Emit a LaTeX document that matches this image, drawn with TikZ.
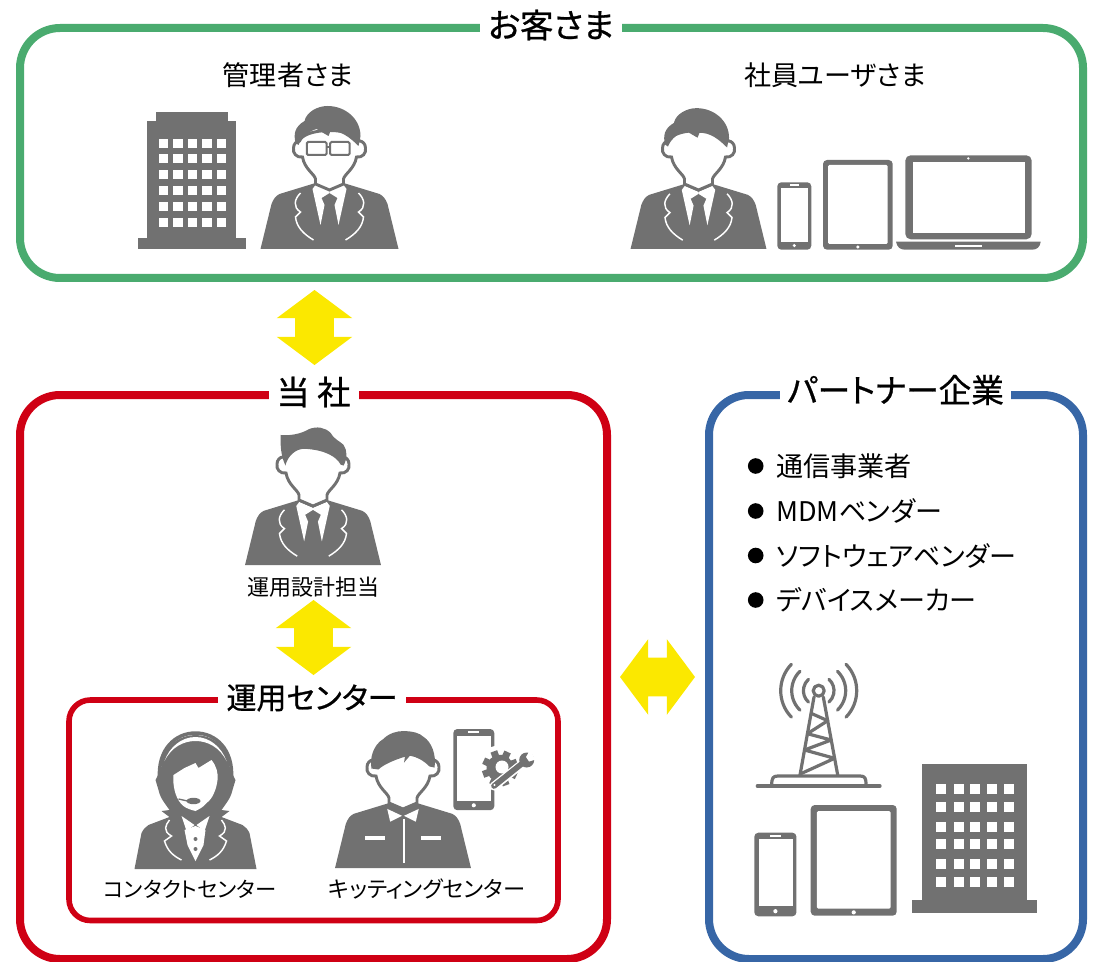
\documentclass[tikz,border=0pt]{standalone}
\usepackage{fontspec}
\setmainfont{Noto Sans CJK JP}[RawFeature=+palt]
\newfontfamily\titlefont{Noto Sans CJK JP}[RawFeature=+palt,FakeBold=0.8]
\usetikzlibrary{shapes.arrows}
\definecolor{icongray}{RGB}{113,113,113}
\definecolor{customergreen}{RGB}{74,171,111}
\definecolor{staffred}{RGB}{207,0,20}
\definecolor{partnerblue}{RGB}{55,102,166}
\definecolor{arrowyellow}{RGB}{251,232,0}
\tikzset{
        outerframe/.style={line width=6pt,rounded corners=30pt},
        innerframe/.style={line width=4.2pt,rounded corners=16pt},
        titlelabel/.style={fill=white,inner sep=0pt,minimum height=24pt,font=\titlefont\fontsize{25}{26}\selectfont},
        grouplabel/.style={inner sep=0pt,font=\fontsize{20.3}{24}\selectfont},
        smalllabel/.style={inner sep=0pt,font=\fontsize{16.5}{20}\selectfont},
        bullet/.style={circle,fill=black,inner sep=0pt,minimum size=11.7pt},
        bothway/.style={draw=none,fill=arrowyellow,shape=double arrow,inner xsep=0pt,inner ysep=14.25pt,text height=0pt,text depth=0pt,text width=0pt,minimum height=56.25pt,double arrow head extend=13.875pt,double arrow tip angle=106.6},
        suitman/.pic={
                \fill[icongray] (-69,0) -- (-58,-45) .. controls (-56,-50) and (-54,-53) .. (-50,-55) -- (-14,-66) -- (14,-66) -- (50,-55) .. controls (54,-53) and (56,-50) .. (58,-45) -- (69,0) -- cycle;
                \foreach \s in {-1,1} {
                        \fill[white,xscale=\s] (-17,-60) -- (-14,-64) -- (0,-58) -- (0,-56) -- (-8,-51) -- (-5,-44) -- (-9,-24) -- cycle;
                        \draw[white,line width=1.1pt,xscale=\s] (-29,-56) .. controls (-35,-50) and (-37,-42) .. (-29,-37) -- (-34,-32) .. controls (-33,-22) and (-26,-15) .. (-16,-9);
                }
                \pic {faceline};
        },
        workman/.pic={
                \fill[icongray] (-69,0) -- (-58,-45) .. controls (-56,-50) and (-54,-53) .. (-50,-55) -- (-14,-66) -- (14,-66) -- (50,-55) .. controls (54,-53) and (56,-50) .. (58,-45) -- (69,0) -- cycle;
                \foreach \s in {-1,1} {
                        \fill[white,xscale=\s] (-16,-60) -- (-1,-53) -- (-13,-47) -- cycle;
                        \fill[white,xscale=\s] (-39,-32) rectangle (-18,-28);
                }
                \draw[white,line width=1pt] (1,-50) -- (1,-5);
                \pic {faceline};
        },
        faceline/.pic={
                \path[fill=white,draw=icongray,line width=2.2pt] (0,-59) -- (-14,-65) -- (-14,-70) .. controls (-15,-75) and (-25,-80) .. (-27,-92) .. controls (-33,-91) and (-37,-96) .. (-36,-101) .. controls (-36,-105) and (-33,-108) .. (-30,-108) .. controls (-25,-122) and (25,-122) .. (30,-108) .. controls (33,-108) and (36,-105) .. (36,-101) .. controls (37,-96) and (33,-91) .. (27,-92) .. controls (25,-80) and (15,-75) .. (14,-70) -- (14,-65) -- cycle;
        },
        % hair of the three men
        hairside/.pic={
                \fill[icongray] (-34,-106) .. controls (-36,-115) and (-35,-122) .. (-25,-128) .. controls (-23,-137) and (-12,-143) .. (-2,-143) .. controls (16,-143) and (31,-130) .. (31,-113) -- (29,-103) .. controls (20,-112) and (12,-118) .. (1,-118) -- (-1,-113) -- (-13,-120) .. controls (-20,-118) and (-28,-112) .. (-31,-104) -- cycle;
        },
        hairswept/.pic={
                \fill[icongray] (-33,-132) .. controls (-24,-131) and (-12,-133) .. (-4,-138) .. controls (4,-141) and (12,-140) .. (18,-134) .. controls (22,-127) and (27,-126) .. (31,-122) .. controls (35,-116) and (35,-108) .. (31,-101) -- (28,-102) .. controls (24,-110) and (12,-117) .. (-9,-118) .. controls (-18,-118) and (-26,-110) .. (-28,-101) -- (-30,-106) .. controls (-33,-115) and (-33,-124) .. cycle;
        },
        hairtop/.pic={
                \fill[icongray] (-32,-101) .. controls (-34,-112) and (-30,-125) .. (-20,-131) .. controls (-14,-137) and (-6,-139) .. (0,-139) .. controls (10,-139) and (17,-137) .. (21,-133) .. controls (29,-128) and (34,-115) .. (32,-102) -- (27,-103) .. controls (21,-109) and (14,-113) .. (7,-114) -- (1,-107) -- (2,-113) .. controls (-8,-110) and (-20,-105) .. (-25,-100) -- cycle;
        },
        glasses/.pic={
                \draw[icongray,line width=1.5pt,rounded corners=1pt,fill=white] (-22.7,-107) rectangle (-3,-94);
                \draw[icongray,line width=1.5pt,rounded corners=1pt,fill=white] (0.7,-107) rectangle (20,-94);
                \draw[icongray,line width=1.5pt] (-3,-102) -- (0.7,-102);
        },
        headsetwoman/.pic={
                \draw[icongray,line width=2.6pt] (-36,-90) .. controls (-38,-120) and (-20,-136) .. (0,-136) .. controls (20,-136) and (38,-120) .. (36,-90);
                \fill[icongray] (0,-125) .. controls (-18,-125) and (-32,-115) .. (-35,-99) -- (-40,-89) -- (-37,-79) .. controls (-35,-70) and (-30,-65) .. (-26,-59) -- (-34,-58) -- (-26,-52) -- (26,-52) -- (34,-58) -- (26,-59) .. controls (30,-65) and (35,-70) .. (37,-79) -- (40,-89) -- (35,-99) .. controls (32,-115) and (18,-125) .. (0,-125) -- cycle;
                \fill[icongray] (-35,-105) .. controls (-30,-125) and (-15,-134) .. (0,-134) .. controls (15,-134) and (30,-125) .. (35,-105) -- cycle;
                \fill[white] (-31,-108) .. controls (-26,-122) and (-14,-132) .. (0,-132) .. controls (14,-132) and (26,-122) .. (31,-108) .. controls (24,-122) and (12,-128) .. (0,-128) .. controls (-12,-128) and (-24,-122) .. cycle;
                \fill[icongray] (-61,0) -- (-54,-36) .. controls (-52,-40) and (-50,-42) .. (-47,-44) -- (-26,-52) -- (26,-52) -- (47,-44) .. controls (50,-42) and (52,-40) .. (54,-36) -- (61,0) -- cycle;
                \fill[white] (0,-58) .. controls (-8,-60) and (-12,-62) .. (-15,-66) .. controls (-20,-72) and (-23,-83) .. (-22,-94) -- (-11,-101) -- (0,-106) -- (3,-101) -- (16,-109) .. controls (21,-103) and (23,-95) .. (22,-89) .. controls (21,-80) and (17,-70) .. (11,-66) .. controls (8,-62) and (4,-60) .. (0,-58) -- cycle;
                \draw[icongray,line width=1pt] (-17,-70) -- (-8,-68);
                \fill[icongray] (-2,-68) ellipse (7 and 3.2);
                \fill[white] (-11,-39) -- (0,-43) -- (10,-39) -- (8,-24) -- (0,-8) -- (-8,-24) -- cycle;
                \foreach \s in {-1,1} {
                        \fill[white,xscale=\s] (-14,-53) -- (-1,-44) -- (-9,-38) -- cycle;
                        \draw[white,line width=1.1pt,xscale=\s] (-26,-49) .. controls (-30,-44) and (-33,-38) .. (-24,-33) -- (-31,-28) .. controls (-28,-18) and (-22,-13) .. (-14,-9);
                }
                \fill[icongray] (0,-30) circle (2);
                \fill[icongray] (0,-20) circle (2);
        },
        % phone and tablet, origin at the upper left corner
        phone/.pic={
                \fill[icongray,rounded corners=3pt] (0,0) rectangle (34,67.4);
                \fill[white] (3.4,5.4) rectangle (31,59.4);
                \fill[white] (12.5,1.9) rectangle (21.5,3.7);
                \fill[white] (17,63.3) circle (1.7);
        },
        tablet/.pic={
                \fill[icongray,rounded corners=3pt] (0,0) rectangle (69.7,89.7);
                \fill[white,rounded corners=1pt] (5,5) rectangle (64.7,84);
                \fill[white] (34.85,87) circle (1.7);
        },
}
\begin{document}
\begin{tikzpicture}[x=0.75pt,y=-0.75pt]
        \useasboundingbox (0,0) rectangle (1094,962);
        \draw[customergreen,outerframe] (20,28) rectangle (1083,278);
        \draw[staffred,outerframe] (20,395) rectangle (607,959);
        \draw[partnerblue,outerframe] (709,395) rectangle (1083,959);
        \draw[staffred,innerframe] (69,700) rectangle (558,920.5);
        \node[titlelabel,minimum width=106.5pt] (customer) at (551,25) {お客さま};
        \node[titlelabel,minimum width=67.5pt] (staff) at (313.5,392) {当 社};
        \node[titlelabel,minimum width=173pt,font=\titlefont\fontsize{24.5}{26}\selectfont] (partner) at (895.5,390) {パートナー企業};
        \node[titlelabel,minimum width=141pt,font=\titlefont\fontsize{22.5}{24}\selectfont] (center) at (312,698) {運用センター};
        \node[grouplabel] (manager) at (288,75) {管理者さま};
        \node[grouplabel] (employee) at (835,75) {社員ユーザさま};
        \node[smalllabel] (designer) at (313,587) {運用設計担当};
        \node[smalllabel,font=\fontsize{16}{20}\selectfont] (contact) at (190,889) {コンタクトセンター};
        \node[smalllabel,font=\fontsize{16.7}{20}\selectfont] (kitting) at (427,889) {キッティングセンター};
        \node[bothway,rotate=90] (customerarrow) at (314.5,327.5) {};
        \node[bothway,rotate=90] (designerarrow) at (313.5,637.5) {};
        \node[bothway] (partnerarrow) at (657.5,677) {};
        \foreach \y/\t/\n in {466/通信事業者/carrier,511/MDMベンダー/mdm,555.5/ソフトウェアベンダー/software,600/デバイスメーカー/device} {
                \node[bullet] (\n bullet) at (755.7,\y) {};
                \node[grouplabel,anchor=west] (\n) at (776,\y) {\t};
        }
        % people
        \pic (managerman) at (329.5,249) {suitman};
        \pic (managerhair) at (329.5,249) {hairside};
        \pic (managerglasses) at (329.5,249) {glasses};
        \pic[scale=0.985] (employeeman) at (698.5,249) {suitman};
        \pic[scale=0.985] (employeehair) at (698.5,249) {hairside};
        \pic[scale=0.985] (designerman) at (313,565) {suitman};
        \pic[scale=0.985] (designerhair) at (313,565) {hairswept};
        \pic[scale=0.985] (kittingman) at (403,868) {workman};
        \pic[scale=0.985] (kittinghair) at (403,868) {hairtop};
        \pic (contactwoman) at (195.5,869) {headsetwoman};
        % devices of the customer
        \pic at (777.3,182.3) {phone};
        \pic at (823,160) {tablet};
        \fill[icongray,rounded corners=4pt] (905.3,155.3) rectangle (1031.7,239.3);
        \fill[white] (912.7,161.7) rectangle (1025,233);
        \fill[white] (968.3,158.4) circle (1.3);
        \fill[icongray] (896,241.7) -- (1040.7,241.7) .. controls (1040,247) and (1037,249.7) .. (1032,249.7) -- (905,249.7) .. controls (900,249.7) and (897,247) .. (896,241.7) -- cycle;
        \fill[white] (955,245) rectangle (981.7,247);
        % buildings
        \fill[icongray] (156,112) rectangle (228,122);
        \fill[icongray] (147,121) rectangle (236,238);
        \fill[icongray] (138,238) rectangle (246,249.5);
        \foreach \x in {159,173.3,188,202.3,217} \foreach \y in {139,154,170,185.7,201.7,217.7} \fill[white] (\x,\y) rectangle ++(9.3,9);
        \fill[icongray] (922.3,764) rectangle (1026.7,900);
        \fill[icongray] (912.3,900) rectangle (1037.3,913.3);
        \foreach \x in {936,954,970,987,1004} \foreach \y in {784,802.3,821.7,839,859,877.3} \fill[white] (\x,\y) rectangle ++(10,10);
        % devices of the partner
        \pic[scale=1.24] at (754.3,832.7) {phone};
        \pic[scale=1.234] at (810.7,805) {tablet};
        % tower
        \begin{scope}[icongray,line width=2.4pt,line cap=round,line join=round]
                \draw (818.7,690.7) circle (5.5);
                \foreach \r/\a in {15.3/48,27/46,38/44} {
                        \draw (818.7,690.7) ++(180-\a:\r) arc[start angle=180-\a,end angle=180+\a,radius=\r];
                        \draw (818.7,690.7) ++(-\a:\r) arc[start angle=-\a,end angle=\a,radius=\r];
                }
                \draw (814,697) -- (800,775) (823.3,697) -- (837.7,775);
                \draw (811.1,713.3) -- (827.7,720.7) -- (807.4,733.7) -- (831.2,740) -- (804.5,750) -- (834.6,758.3) -- (800.2,774);
                \draw (771.7,785) .. controls (771.7,778) and (773,776) .. (778,776) -- (860,776) .. controls (865,776) and (866,778) .. (866,785);
                \draw (757.3,786) -- (880,786);
        \end{scope}
        % phone with gear and wrench
        \pic[scale=1.205] at (453.3,729) {phone};
        \fill[white] (500,768.3) circle (23);
        \foreach \a in {0,45,...,315} \fill[icongray,shift={(500,768.3)},rotate=\a+20] (-3.5,-18) rectangle (3.5,-10);
        \fill[icongray] (500,768.3) circle (13.5);
        \fill[white] (502,767) circle (6.5);
        \draw[white,line width=6.5pt] (493.3,786.7) -- (522,764);
        \draw[icongray,line width=4.2pt,line cap=round] (494,786) -- (524,762);
        \fill[icongray] (526.7,760) circle (7.5);
        \fill[white] (529.5,751) -- (536,759.5) -- (529,761.5) -- (526,757) -- cycle;
        \fill[white] (494.5,785) circle (1.2);
\end{tikzpicture}
\end{document}
